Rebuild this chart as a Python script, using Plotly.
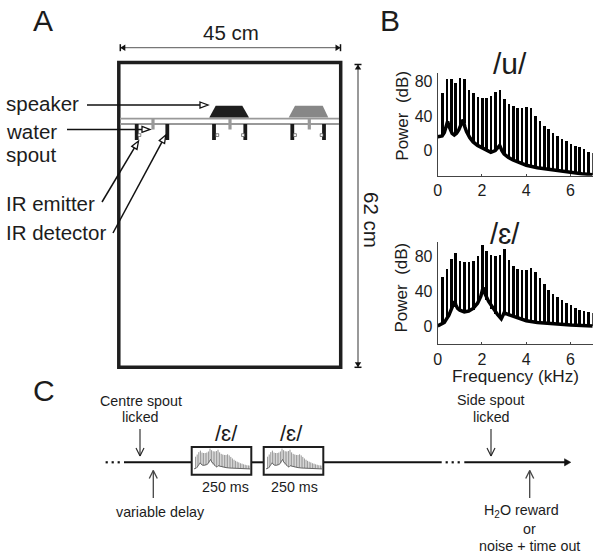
import math
import plotly.graph_objects as go

FONT = "Liberation Sans"
INK = "#1c1c1c"

# ---- spectra data (kHz, dB)
harmonics_khz = [0.2, 0.4, 0.6, 0.8, 1.0, 1.2, 1.4, 1.6, 1.8, 2.0, 2.2, 2.4, 2.6, 2.8, 3.0, 3.2, 3.4, 3.6,
                 3.8, 4.0, 4.2, 4.4, 4.6, 4.8, 5.0, 5.2, 5.4, 5.6, 5.8, 6.0, 6.2, 6.4, 6.6, 6.8, 7.0]
u_peaks = [67, 84, 83, 79, 85, 83, 71, 67, 63, 62, 61, 64, 69, 71, 60, 55, 52, 50,
           50, 51, 50, 41, 35, 29, 25, 21, 17, 14, 12, 8, 6, 4, 2, -1, -3]
u_floor = [17, 30, 22, 18, 26, 32, 17, 10, 6, 3, 0, -2, 0, 6, -4, -8, -11, -13,
           -15, -17, -18, -19, -20, -21, -22, -23, -24, -24, -25, -25, -26, -26, -27, -27, -28]
u_env_khz = [0, 0.1, 0.2, 0.3, 0.38, 0.45, 0.5, 0.56, 0.65, 0.75, 0.85, 0.95, 1.05, 1.15, 1.22, 1.3, 1.45, 1.6,
             1.8, 2.0, 2.2, 2.4, 2.6, 2.72, 2.8, 2.9, 3.0, 3.2, 3.4, 3.7, 4.0, 4.5, 5.0, 5.5, 6.0, 6.5, 7.0]
u_env_db = [16, 16, 17, 21, 27, 34, 29, 25, 20, 18, 20, 24, 29, 36, 28, 22, 15, 10,
            6, 3, 0, -2, 0, 3, 6, 0, -4, -8, -11, -14, -17, -20, -22, -24, -25, -27, -28]

eh_peaks = [56, 66, 77, 84, 75, 73, 73, 75, 80, 93, 86, 81, 80, 82, 88, 76, 69, 66,
            64, 64, 67, 62, 55, 48, 42, 37, 33, 30, 26, 24, 21, 19, 17, 16, 15]
eh_floor = [2, 8, 20, 24, 18, 16, 17, 19, 26, 43, 30, 20, 14, 9, 15, 12, 10, 8,
            7, 6, 5, 5, 4, 4, 3, 3, 3, 2, 2, 2, 1, 1, 1, 0, 0]
eh_env_khz = [0, 0.1, 0.2, 0.3, 0.4, 0.5, 0.6, 0.7, 0.76, 0.82, 0.9, 1.0, 1.2, 1.4, 1.6, 1.8, 1.95, 2.05, 2.15,
              2.3, 2.5, 2.7, 2.87, 2.93, 3.0, 3.2, 3.5, 4.0, 4.5, 5.0, 6.0, 7.0]
eh_env_db = [0, 1, 2, 4, 8, 12, 18, 25, 28, 24, 20, 18, 16, 17, 20, 26, 34, 44, 36,
             28, 20, 13, 8, 11, 15, 13, 10, 6, 4, 3, 1, 0]

x_ticks = [0, 2, 4, 6]
y_ticks = [0, 40, 80]

W, H = 600, 555

def dom_x(a, b):
    return [a / W, b / W]

def dom_y(top, bottom):
    return [1 - bottom / H, 1 - top / H]

fig = go.Figure()

# invisible full-canvas axes used for the schematic
fig.update_layout(
    width=W, height=H, margin=dict(l=0, r=0, t=0, b=0, autoexpand=False), autosize=False,
    paper_bgcolor="white", plot_bgcolor="rgba(0,0,0,0)", showlegend=False,
    font=dict(family=FONT, color=INK), bargap=0,
    xaxis=dict(domain=[0, 1], range=[0, W], visible=False, fixedrange=True),
    yaxis=dict(domain=[0, 1], range=[H, 0], visible=False, fixedrange=True),
)
fig.add_trace(go.Scatter(x=[0, W], y=[0, H], mode="markers", marker=dict(opacity=0), hoverinfo="skip"))

def spectrum(idx, peaks, floor, env_x, env_y, xdom, ydom, yrange, labels=True,
             stem="black", env="black", bw=0.115, lw=3.5):
    xa, ya = f"x{idx}", f"y{idx}"
    if labels:
        fig.add_trace(go.Bar(x=harmonics_khz, y=[p - f for p, f in zip(peaks, floor)], base=floor,
                             width=bw, marker=dict(color=stem, line=dict(width=0)),
                             xaxis=xa, yaxis=ya, cliponaxis=False, hoverinfo="skip"))
    else:
        # thin stems in the miniature: one line path through all stems
        sx, sy = [], []
        for h, p, f in zip(harmonics_khz, peaks, floor):
            sx += [h, h, None]
            sy += [f, p, None]
        fig.add_trace(go.Scatter(x=sx, y=sy, mode="lines", line=dict(color=stem, width=0.9),
                                 xaxis=xa, yaxis=ya, cliponaxis=False, hoverinfo="skip"))
    fig.add_trace(go.Scatter(x=env_x, y=env_y, mode="lines", line=dict(color=env, width=lw),
                             xaxis=xa, yaxis=ya, cliponaxis=False, hoverinfo="skip"))
    common = dict(fixedrange=True, showgrid=False, zeroline=False)
    if labels:
        fig.update_layout({
            f"xaxis{idx}": dict(domain=xdom, range=[0, 7], anchor=ya, tickvals=x_ticks, ticks="inside",
                                ticklen=2, tickwidth=1, tickcolor="#444", showline=True, linecolor="#444",
                                linewidth=1, tickfont=dict(size=16, color=INK, family=FONT), **common),
            f"yaxis{idx}": dict(domain=ydom, range=yrange, anchor=xa, tickvals=y_ticks, ticks="",
                                showline=True, linecolor="#444", linewidth=1, ticklabelstandoff=1,
                                tickfont=dict(size=16, color=INK, family=FONT), **common),
        })
    else:
        fig.update_layout({
            f"xaxis{idx}": dict(domain=xdom, range=[0, 7], anchor=ya, visible=False, **common),
            f"yaxis{idx}": dict(domain=ydom, range=yrange, anchor=xa, visible=False, **common),
        })

spectrum(2, u_peaks, u_floor, u_env_khz, u_env_db, dom_x(437.7, 592.7), dom_y(72.7, 175.7), [-29.2, 90.5])
spectrum(3, eh_peaks, eh_floor, eh_env_khz, eh_env_db, dom_x(437.7, 592.7), dom_y(241.7, 344.3), [-21, 96.3])
spectrum(4, eh_peaks, eh_floor, eh_env_khz, eh_env_db, dom_x(194, 250), dom_y(448, 470), [-5, 96],
         labels=False, stem="#888", env="#666", lw=1)
spectrum(5, eh_peaks, eh_floor, eh_env_khz, eh_env_db, dom_x(266, 322), dom_y(448, 470), [-5, 96],
         labels=False, stem="#888", env="#666", lw=1)

shapes = []

def line(x0, y0, x1, y1, color=INK, w=1.5):
    shapes.append(dict(type="line", x0=x0, y0=y0, x1=x1, y1=y1, xref="x", yref="y",
                       line=dict(color=color, width=w)))

def rect(x0, y0, x1, y1, fill=None, color=INK, w=0):
    shapes.append(dict(type="rect", x0=x0, y0=y0, x1=x1, y1=y1, xref="x", yref="y",
                       fillcolor=fill or "rgba(0,0,0,0)", line=dict(color=color, width=w)))

def poly(pts, fill, color=None, w=0):
    path = "M" + " L".join(f"{x:.1f},{y:.1f}" for x, y in pts) + " Z"
    shapes.append(dict(type="path", path=path, xref="x", yref="y", fillcolor=fill,
                       line=dict(color=color or fill, width=w)))

def head_pts(x0, y0, x1, y1, length, half):
    d = math.hypot(x1 - x0, y1 - y0)
    ux, uy = (x1 - x0) / d, (y1 - y0) / d
    bx, by = x1 - ux * length, y1 - uy * length
    return (bx + uy * half, by - ux * half), (x1, y1), (bx - uy * half, by + ux * half), (bx, by)

def open_arrow(x0, y0, x1, y1, w=1.5):
    a, tip, b, base = head_pts(x0, y0, x1, y1, 8, 3)
    line(x0, y0, base[0], base[1], "#111", w)
    poly([a, tip, b], "white", "#111", 1.3)

def v_arrow(x0, y0, x1, y1, color="#222", w=1.1):
    a, tip, b, _ = head_pts(x0, y0, x1, y1, 8, 4)
    line(x0, y0, x1, y1, color, w)
    line(a[0], a[1], tip[0], tip[1], color, w)
    line(b[0], b[1], tip[0], tip[1], color, w)

def dim_end(x0, y0, x1, y1):
    # black end-stop: triangle pointing at a short bar
    a, tip, b, _ = head_pts(x0, y0, x1, y1, 5, 3.2)
    poly([a, tip, b], "#111")
    d = math.hypot(x1 - x0, y1 - y0)
    ux, uy = (x1 - x0) / d, (y1 - y0) / d
    line(x1 + uy * 3.5, y1 - ux * 3.5, x1 - uy * 3.5, y1 + ux * 3.5, "#111", 1.5)

# chamber
rect(118.8, 62.5, 340.7, 367.3, None, "#1e1e1e", 3.5)

# dimensions
line(120, 47.7, 341, 47.7, "#777", 1.2)
dim_end(128, 47.7, 120.3, 47.7)
dim_end(333, 47.7, 340.5, 47.7)
line(358, 64, 358, 367, "#555", 1.2)
dim_end(358, 72, 358, 64.5)
dim_end(358, 360, 358, 367.3)

# rail
line(120, 118.7, 339, 118.7, "#999", 1.8)
line(120, 124, 339, 124, "#999", 1.8)

# spouts, speakers, posts
for sx_ in (153, 230, 309.3):
    rect(sx_ - 1.6, 119, sx_ + 1.6, 129.5, "#999")
poly([(209.3, 117.5), (215.7, 105.7), (242.3, 105.7), (249, 117.5)], "#1e1e1e")
poly([(288.7, 117.5), (295, 105.7), (322.7, 105.7), (328.3, 117.5)], "#878787")
for px in (136.7, 167.3, 214, 245.3, 292.3, 324):
    rect(px - 1.9, 124, px + 1.9, 140, "#1a1a1a")
for qx in (139.4, 217.3, 243.0, 295, 321.6):
    rect(qx - 1.4, 133.7, qx + 1.4, 136.5, "white", "#555", 0.7)

# labelling arrows
open_arrow(87, 105, 208, 105)
open_arrow(67, 129.4, 150, 129.4)
open_arrow(102, 202, 138.5, 141)
open_arrow(113, 233, 165.7, 135)

# timeline
line(124, 462.3, 192, 462.3, "#111", 2)
line(251, 462.3, 264, 462.3, "#111", 2)
line(323, 462.3, 441.7, 462.3, "#111", 2)
line(464.3, 462.3, 566, 462.3, "#111", 2)
poly([(564.5, 458.7), (570.8, 462.3), (564.5, 465.9)], "#111", "#111", 0.5)
for dx in (106.7, 112.7, 118.7, 446.7, 452.7, 458.7):
    rect(dx - 1.1, 461.2, dx + 1.1, 463.4, "#111")
rect(191.7, 447, 251.3, 474.7, None, "#1e1e1e", 2)
rect(263.7, 447, 323.3, 474.7, None, "#1e1e1e", 2)
v_arrow(140, 429, 140, 456)
v_arrow(153.3, 498, 153.3, 470.5, "#444", 1.3)
v_arrow(491, 429, 491, 456)
v_arrow(529.7, 498, 529.7, 470.5, "#444", 1.3)

fig.update_layout(shapes=shapes)

def text(x, y, s, size, anchor="center", angle=0, color=INK):
    fig.add_annotation(x=x, y=y, xref="x", yref="y", text=s, showarrow=False, xanchor=anchor,
                       yanchor="middle", textangle=angle, align="center",
                       font=dict(size=size, family=FONT, color=color))

NB = "\u00a0"
text(43, 20, "A", 30)
text(390, 20, "B", 30)
text(44, 390, "C", 30)
text(231, 32, "45 cm", 20.5)
text(372, 220, "62 cm", 20.5, angle=90)
text(4, 103, "speaker", 20.5, "left")
text(4, 131, "water", 20.5, "left")
text(4, 154, "spout", 20.5, "left")
text(4, 203, "IR emitter", 20.5, "left")
text(4, 232, "IR detector", 20.5, "left")
text(510, 63, "/u/", 30)
text(505, 234, "/\u025b/", 29)
text(401.7, 116, f"Power{NB}{NB}(dB)", 17, angle=-90)
text(400.5, 288, f"Power{NB}{NB}(dB)", 17, angle=-90)
text(515, 376, "Frequency (kHz)", 17.2)
text(140.5, 400.5, "Centre spout", 14.3)
text(140, 417, "licked", 14.3)
text(160, 511.7, "variable delay", 14.3)
text(226, 433, "/\u025b/", 22)
text(291, 433, "/\u025b/", 22)
text(225.7, 487.3, "250 ms", 14.3)
text(294.7, 487.3, "250 ms", 14.3)
text(491, 400, "Side spout", 14.3)
text(491, 417, "licked", 14.3)
text(521, 511, "H<sub>2</sub>O reward", 14.3)
text(529, 529, "or", 14.3)
text(529, 546, "noise + time out", 14.3)

fig.write_html("out.html", post_script="document.body.style.margin='0';", config={"displayModeBar": False})
